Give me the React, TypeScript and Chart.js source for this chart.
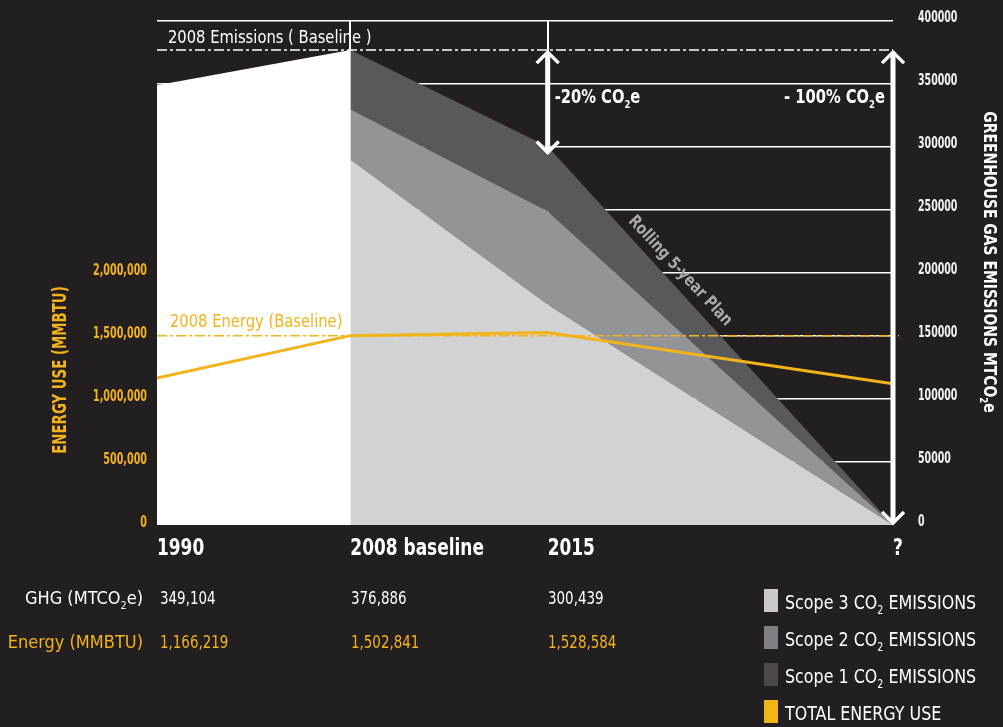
import React, { useEffect, useRef } from 'react';
import { Chart, registerables } from 'chart.js';

Chart.register(...registerables);

// ---------- data ----------
const categories = ['1990', '2008 baseline', '2015', '?'];
const xPositions = [0, 0.98, 1.98, 3.73];
const ghgTotal = [349104, 376886, 300439];
const energyUse = [1166219, 1502841, 1528584, 1120000];
// scope series start at 2008 baseline (index 1) and run to "?" (index 3)
const scope3 = [290000, 175000, 0];
const scope2 = [40000, 74000, 0];
const scope1 = [46886, 51439, 0];
const ghgBaseline = 376886;
const energyBaseline = 1502841;
const ghgTickStep = 50000;
const ghgMax = 400000;
const energyTickStep = 500000;
const energyTickMax = 2000000;
const energyMax = 4000000;

const BG = '#231f20';
const YELLOW = '#f2b31b';
const C_S3 = '#d1d2d4';
const C_S2 = '#929497';
const C_S1 = '#58595b';
const FONT = "'DejaVu Sans Condensed', 'DejaVu Sans', sans-serif";

const fmt = (v: number) => v.toLocaleString('en-US');

function txt(
  ctx: CanvasRenderingContext2D,
  s: string,
  x: number,
  y: number,
  font: string,
  sx: number,
  align: CanvasTextAlign,
  color: string
) {
  ctx.save();
  ctx.translate(x, y);
  ctx.scale(sx, 1);
  ctx.font = font;
  ctx.fillStyle = color;
  ctx.textAlign = align;
  ctx.textBaseline = 'middle';
  ctx.fillText(s, 0, 0);
  ctx.restore();
}

// text with a subscript part, horizontally condensed by sx
function subText(
  ctx: CanvasRenderingContext2D,
  x: number,
  y: number,
  parts: [string, string, string],
  size: number,
  weight: string,
  sx: number,
  align: 'left' | 'right' | 'center',
  color: string
) {
  const main = `${weight} ${size}px ${FONT}`;
  const small = `${weight} ${Math.round(size * 0.6)}px ${FONT}`;
  ctx.save();
  ctx.translate(x, y);
  ctx.scale(sx, 1);
  ctx.font = main;
  const w1 = ctx.measureText(parts[0]).width;
  const w3 = ctx.measureText(parts[2]).width;
  ctx.font = small;
  const w2 = ctx.measureText(parts[1]).width;
  const total = w1 + w2 + w3;
  const start = align === 'left' ? 0 : align === 'right' ? -total : -total / 2;
  ctx.fillStyle = color;
  ctx.textAlign = 'left';
  ctx.textBaseline = 'middle';
  ctx.font = main;
  ctx.fillText(parts[0], start, 0);
  ctx.font = small;
  ctx.fillText(parts[1], start + w1, size * 0.35);
  ctx.font = main;
  ctx.fillText(parts[2], start + w1 + w2, 0);
  ctx.restore();
}

function arrow(ctx: CanvasRenderingContext2D, x: number, y1: number, y2: number) {
  ctx.save();
  ctx.strokeStyle = '#ffffff';
  ctx.setLineDash([]);
  ctx.lineCap = 'butt';
  ctx.lineWidth = 5;
  ctx.beginPath();
  ctx.moveTo(x, y1 + 2);
  ctx.lineTo(x, y2 - 2);
  ctx.stroke();
  ctx.lineWidth = 3.5;
  ctx.lineJoin = 'miter';
  ctx.beginPath();
  ctx.moveTo(x - 11, y1 + 13);
  ctx.lineTo(x, y1 + 2);
  ctx.lineTo(x + 11, y1 + 13);
  ctx.stroke();
  ctx.beginPath();
  ctx.moveTo(x - 11, y2 - 13);
  ctx.lineTo(x, y2 - 2);
  ctx.lineTo(x + 11, y2 - 13);
  ctx.stroke();
  ctx.restore();
}

const overlayPlugin = {
  id: 'overlay',
  afterDraw(chart: any) {
    const { ctx, chartArea: ca, scales } = chart;
    const xs = scales.x;
    const ys = scales.y;
    const yl = scales.yL;
    ctx.save();

    // tick labels (drawn from the library's scales, condensed)
    xs.ticks.forEach((t: any, i: number) => {
      txt(ctx, categories[i], xs.getPixelForValue(t.value), 549, `bold 23px ${FONT}`, 0.82, 'left', '#ffffff');
    });
    ys.ticks.forEach((t: any) => {
      txt(ctx, String(t.value), ca.right + 25, ys.getPixelForValue(t.value) - 3, `bold 15px ${FONT}`, 0.7, 'left', '#f2f2f2');
    });
    yl.ticks.forEach((t: any) => {
      if (t.value > energyTickMax) return;
      txt(ctx, fmt(t.value), 147, yl.getPixelForValue(t.value) - 2, `bold 15px ${FONT}`, 0.71, 'right', YELLOW);
    });

    // baselines
    const yb = ys.getPixelForValue(ghgBaseline);
    ctx.setLineDash([10, 3, 3, 3]);
    ctx.lineWidth = 1.5;
    ctx.strokeStyle = '#ffffff';
    ctx.beginPath();
    ctx.moveTo(ca.left, yb);
    ctx.lineTo(ca.right, yb);
    ctx.stroke();
    const ye = yl.getPixelForValue(energyBaseline);
    ctx.strokeStyle = YELLOW;
    ctx.beginPath();
    ctx.moveTo(ca.left, ye);
    ctx.lineTo(ca.right + 6, ye);
    ctx.stroke();
    ctx.setLineDash([]);

    txt(ctx, '2008 Emissions ( Baseline )', ca.left + 11, yb - 12, `normal 18px ${FONT}`, 0.91, 'left', '#ffffff');
    txt(ctx, '2008 Energy (Baseline)', ca.left + 13, ye - 13, `normal 18px ${FONT}`, 0.91, 'left', YELLOW);

    // arrows
    const x2015 = xs.getPixelForValue(xPositions[2]);
    const xEnd = xs.getPixelForValue(xPositions[3]);
    arrow(ctx, x2015, yb, ys.getPixelForValue(ghgTotal[2]) + 8);
    arrow(ctx, xEnd, yb, ys.getPixelForValue(0));

    subText(ctx, x2015 + 7, 98, ['-20% CO', '2', 'e'], 19, 'bold', 0.86, 'left', '#ffffff');
    subText(ctx, xEnd - 8, 98, ['- 100% CO', '2', 'e'], 19, 'bold', 0.86, 'right', '#ffffff');

    // rolling plan
    ctx.save();
    ctx.translate(680, 271);
    ctx.rotate((47 * Math.PI) / 180);
    txt(ctx, 'Rolling 5-year Plan', 0, 0, `bold 17px ${FONT}`, 0.88, 'center', '#a7a9ac');
    ctx.restore();

    // axis titles
    ctx.save();
    ctx.translate(61, 370);
    ctx.rotate(-Math.PI / 2);
    txt(ctx, 'ENERGY USE (MMBTU)', 0, 0, `bold 19px ${FONT}`, 0.78, 'center', YELLOW);
    ctx.restore();

    ctx.save();
    ctx.translate(989, 262);
    ctx.rotate(Math.PI / 2);
    subText(ctx, 0, 0, ['GREENHOUSE GAS EMISSIONS MTCO', '2', 'e'], 18, 'bold', 0.86, 'center', '#ffffff');
    ctx.restore();

    ctx.restore();
  },
};

const Sub = ({ children }: { children: React.ReactNode }) => (
  <span style={{ fontSize: '0.6em', position: 'relative', top: '0.45em' }}>{children}</span>
);

export default function App() {
  const ref = useRef<HTMLCanvasElement | null>(null);

  useEffect(() => {
    if (!ref.current) return;
    const scopePts = (arr: number[]) => arr.map((v, i) => ({ x: xPositions[i + 1], y: v }));
    const chart = new Chart(ref.current, {
      type: 'line',
      data: {
        datasets: [
          {
            label: 'TOTAL ENERGY USE',
            data: energyUse.map((v, i) => ({ x: xPositions[i], y: v })),
            yAxisID: 'yL',
            borderColor: YELLOW,
            borderWidth: 3,
            pointRadius: 0,
            fill: false,
            tension: 0,
          },
          {
            label: 'GHG 1990-2008',
            data: ghgTotal.slice(0, 2).map((v, i) => ({ x: xPositions[i], y: v })),
            yAxisID: 'y',
            stack: 'base',
            backgroundColor: '#ffffff',
            borderWidth: 0,
            pointRadius: 0,
            fill: 'origin',
          },
          {
            label: 'Scope 3 CO2 EMISSIONS',
            data: scopePts(scope3),
            yAxisID: 'y',
            stack: 'ghg',
            backgroundColor: C_S3,
            borderWidth: 0,
            pointRadius: 0,
            fill: 'origin',
          },
          {
            label: 'Scope 2 CO2 EMISSIONS',
            data: scopePts(scope2),
            yAxisID: 'y',
            stack: 'ghg',
            backgroundColor: C_S2,
            borderWidth: 0,
            pointRadius: 0,
            fill: '-1',
          },
          {
            label: 'Scope 1 CO2 EMISSIONS',
            data: scopePts(scope1),
            yAxisID: 'y',
            stack: 'ghg',
            backgroundColor: C_S1,
            borderWidth: 0,
            pointRadius: 0,
            fill: '-1',
          },
        ],
      },
      options: {
        responsive: false,
        animation: false,
        devicePixelRatio: 1,
        layout: { padding: { top: 21, left: 0, right: 0, bottom: 0 }, autoPadding: false },
        plugins: { legend: { display: false }, tooltip: { enabled: false } },
        scales: {
          x: {
            type: 'linear',
            min: 0,
            max: xPositions[3],
            z: 1,
            afterBuildTicks: (s: any) => {
              s.ticks = xPositions.map((v) => ({ value: v }));
            },
            afterFit: (s: any) => {
              s.height = 727 - 525;
            },
            border: { display: false },
            grid: {
              drawTicks: false,
              lineWidth: 2,
              color: (c: any) => (c.index === 1 || c.index === 2 ? '#ffffff' : 'rgba(0,0,0,0)'),
            },
            ticks: { display: false, autoSkip: false, maxRotation: 0 },
          },
          y: {
            type: 'linear',
            position: 'right',
            stacked: true,
            min: 0,
            max: ghgMax,
            z: 1,
            afterFit: (s: any) => {
              s.width = 1003 - 893;
            },
            border: { display: false },
            grid: {
              drawTicks: false,
              lineWidth: 1.5,
              color: (c: any) => (c.tick && c.tick.value === 0 ? 'rgba(0,0,0,0)' : '#ffffff'),
            },
            ticks: { display: false, stepSize: ghgTickStep },
          },
          yL: {
            type: 'linear',
            position: 'left',
            min: 0,
            max: energyMax,
            afterFit: (s: any) => {
              s.width = 157;
            },
            border: { display: false },
            grid: { display: false, drawTicks: false },
            ticks: { display: false, stepSize: energyTickStep },
          },
        },
      },
      plugins: [overlayPlugin],
    } as any);
    return () => chart.destroy();
  }, []);

  const textBase: React.CSSProperties = {
    position: 'absolute',
    fontFamily: FONT,
    fontSize: 18,
    lineHeight: '22px',
    whiteSpace: 'nowrap',
  };
  const numStyle: React.CSSProperties = { transform: 'scaleX(0.83)', transformOrigin: 'left center' };
  const rowY = [598, 642];
  const colX = [160, 351, 548];
  const legendItems = [
    { color: '#c8c9cb', label: <>Scope 3 CO<Sub>2</Sub> EMISSIONS</>, y: 600 },
    { color: '#7f8083', label: <>Scope 2 CO<Sub>2</Sub> EMISSIONS</>, y: 637 },
    { color: '#4a4a4c', label: <>Scope 1 CO<Sub>2</Sub> EMISSIONS</>, y: 674 },
    { color: '#f2b414', label: <>TOTAL ENERGY USE</>, y: 711 },
  ];

  return (
    <div style={{ position: 'absolute', left: 0, top: 0, width: 1003, height: 727, background: BG, overflow: 'hidden' }}>
      <canvas ref={ref} width={1003} height={727} style={{ position: 'absolute', left: 0, top: 0 }} />
      <div style={{ ...textBase, color: '#ffffff', right: 1003 - 143, top: rowY[0] - 11 }}>
        GHG (MTCO<Sub>2</Sub>e)
      </div>
      <div style={{ ...textBase, color: YELLOW, right: 1003 - 143, top: rowY[1] - 11 }}>Energy (MMBTU)</div>
      {ghgTotal.map((v, i) => (
        <div key={'g' + i} style={{ ...textBase, ...numStyle, color: '#ffffff', left: colX[i], top: rowY[0] - 11 }}>
          {fmt(v)}
        </div>
      ))}
      {energyUse.slice(0, 3).map((v, i) => (
        <div key={'e' + i} style={{ ...textBase, ...numStyle, color: YELLOW, left: colX[i], top: rowY[1] - 11 }}>
          {fmt(v)}
        </div>
      ))}
      {legendItems.map((it, i) => (
        <React.Fragment key={'l' + i}>
          <div style={{ position: 'absolute', left: 764, top: it.y - 11, width: 14, height: 23, background: it.color }} />
          <div
            style={{
              ...textBase,
              fontSize: 19,
              color: '#ffffff',
              left: 785,
              top: it.y - 9,
              transform: 'scaleX(0.93)',
              transformOrigin: 'left center',
            }}
          >
            {it.label}
          </div>
        </React.Fragment>
      ))}
    </div>
  );
}
